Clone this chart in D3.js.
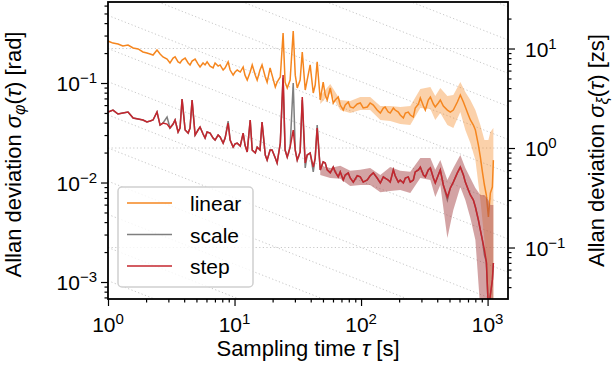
<!DOCTYPE html>
<html>
<head>
<meta charset="utf-8">
<script src="https://cdn.jsdelivr.net/npm/d3@7"></script>
<style>
  body { margin: 0; background: #fff; }
  svg text { font-family: "Liberation Sans", Arial, Helvetica, sans-serif; fill: #000; }
</style>
</head>
<body>
<svg id="chart" width="613" height="373"></svg>
<script>
// sampling times tau [s]
const tau = [
  1.00, 1.095, 1.20, 1.31, 1.44, 1.58, 1.73, 1.89, 2.03, 2.15,
  2.27, 2.44, 2.58, 2.72, 2.93, 3.09, 3.27, 3.39, 3.58, 3.71,
  3.85, 4.07, 4.30, 4.45, 4.62, 4.88, 5.15, 5.34, 5.64, 5.85,
  6.07, 6.41, 6.77, 7.02, 7.42, 7.69, 8.13, 8.43, 8.90, 9.23,
  9.75, 10.1, 10.5, 11.1, 11.7, 12.1, 12.6, 13.3, 13.8, 14.6,
  15.1, 15.9, 16.5, 17.5, 18.1, 19.1, 19.8, 21.0, 21.7, 23.0,
  24.2, 25.1, 26.1, 27.5, 29.1, 30.2, 31.3, 33.0, 34.3, 36.2,
  37.5, 39.6, 41.9, 43.4, 45.0, 47.6, 50.2, 52.1, 54.0, 57.1,
  60.3, 62.5, 66.0, 68.5, 72.3, 75.0, 79.2, 82.1, 86.8, 93.3,
  98.6, 104, 112, 118, 125, 134, 142, 150, 155, 164,
  170, 180, 186, 197, 204, 216, 224, 236, 245, 259,
  268, 284, 294, 311, 322, 340, 353, 373, 386, 408,
  423, 447, 481, 508, 536, 577, 609, 644, 667, 705,
  731, 772, 801, 846, 877, 910, 944, 978, 1015, 1052,
  1091, 1111
];

// Allan deviation sigma_phi [rad]
const linearDev = [
  .264, .252, .247, .236, .241, .225, .220, .205, .200, .196,
  .191, .215, .196, .183, .174, .159, .178, .183, .163, .159,
  .170, .178, .159, .152, .166, .174, .155, .145, .159, .152,
  .163, .148, .142, .159, .148, .152, .135, .142, .163, .135,
  .120, .129, .135, .129, .145, .120, .107, .129, .152, .120,
  .107, .135, .152, .115, .102, .142, .120, .0912, .102, .115,
  .318, .102, .0891, .107, .333, .120, .0891, .107, .205, .0851,
  .107, .152, .0793, .0955, .163, .0675, .102, .0757, .0675, .0891,
  .0630, .0675, .0723, .0601, .0535, .0601, .0644, .0574, .0561, .0615,
  .0630, .0561, .0574, .0630, .0601, .0535, .0499, .0561, .0574, .0511,
  .0499, .0561, .0535, .0511, .0477, .0445, .0499, .0511, .0477, .0455,
  .0561, .0615, .0707, .0587, .0535, .0675, .0723, .0615, .0574, .0630,
  .0675, .0587, .0535, .0511, .0535, .0644, .0757, .0644, .0574, .0477,
  .0425, .0378, .0337, .0238, .0180, .0128, .00944, .00749, .00450, .00784,
  .00901, .0168
];

const scaleDev = [
  .0511, .0535, .0488, .0499, .0511, .0445, .0435, .0425, .0406, .0415,
  .0425, .0511, .0378, .0396, .0455, .0353, .0387, .0425, .0322, .0353,
  .0691, .0337, .0314, .0353, .0675, .0300, .0337, .0361, .0307, .0280,
  .0322, .0314, .0280, .0267, .0300, .0287, .0249, .0280, .0415, .0267,
  .0227, .0244, .0249, .0233, .0314, .0238, .0203, .0425, .0212, .0198,
  .0227, .0212, .0406, .0189, .0168, .0212, .0212, .0176, .0157, .0249,
  .112, .0212, .0180, .0227, .100, .0212, .0168, .0203, .0675, .0140,
  .0189, .0198, .0128, .0176, .0378, .0134, .0161, .0157, .0134, .0125,
  .0143, .0128, .0114, .0128, .0106, .0119, .0125, .0111, .0101, .0117,
  .0114, .0101, .0106, .0117, .0125, .0111, .00989, .0114, .0111, .0106,
  .0101, .0134, .0117, .0101, .0106, .00989, .0111, .0114, .0101, .0106,
  .0128, .0134, .0143, .0119, .0114, .0134, .0140, .0111, .00989, .0119,
  .0134, .00944, .00667, .0088, .0101, .0125, .0143, .0119, .0101, .00841,
  .00749, .00667, .00567, .00420, .00333, .00264, .00187, .00159, .00052, .00074,
  .00105, .00155
];

const stepDev = [
  .0511, .0535, .0488, .0499, .0511, .0445, .0435, .0425, .0406, .0415,
  .0425, .0511, .0378, .0396, .0387, .0353, .0387, .0425, .0322, .0353,
  .0691, .0337, .0314, .0353, .0675, .0300, .0337, .0361, .0307, .0280,
  .0322, .0314, .0280, .0267, .0300, .0287, .0249, .0280, .0396, .0267,
  .0227, .0244, .0249, .0233, .0314, .0238, .0203, .0425, .0212, .0198,
  .0227, .0212, .0406, .0189, .0168, .0212, .0212, .0176, .0157, .0249,
  .120, .0212, .0180, .0227, .0337, .0212, .0168, .0203, .0723, .0157,
  .0189, .0198, .0143, .0176, .0353, .0134, .0161, .0157, .0134, .0125,
  .0143, .0128, .0114, .0128, .0106, .0119, .0125, .0111, .0101, .0117,
  .0114, .0101, .0106, .0117, .0125, .0111, .00989, .0114, .0111, .0106,
  .0101, .0134, .0117, .0101, .0106, .00989, .0111, .0114, .0101, .0106,
  .0128, .0134, .0143, .0119, .0114, .0134, .0140, .0111, .00989, .0119,
  .0134, .00944, .00715, .0088, .0101, .0125, .0143, .0119, .0101, .00841,
  .00749, .00667, .00567, .00420, .00333, .00264, .00210, .00159, .00052, .00074,
  .00105, .00155
];

// confidence bands
const bandTau = [47.6, 57.1, 68.5, 82.1, 98.6, 118, 142, 170, 204, 245,
                 294, 353, 386, 423, 481, 536, 609, 667, 731, 801,
                 877, 944, 1015, 1052, 1111];
const linearHi = [.0740, .0977, .0675, .0659, .0723, .0723, .0587, .0587, .0574, .0587,
                  .0871, .0912, .0740, .0891, .0740, .0757, .1023, .0812, .0675, .0535,
                  .0378, .0267, .0267, .0322, .0353];
const linearLo = [.0615, .0793, .0535, .0499, .0535, .0535, .0425, .0415, .0387, .0378,
                  .0561, .0548, .0425, .0499, .0378, .0353, .0511, .0337, .0249, .0168,
                  .00667, .00264, .00052, .00052, .00052];
const stepHi = [.0147, .0140, .0147, .0131, .0134, .0140, .0119, .0143, .0131, .0128,
                .0176, .0176, .0134, .0168, .0106, .0140, .0189, .0140, .0111, .0088,
                .00749, .00749, .00667, .00594, .00594];
const stepLo = [.0119, .0111, .0109, .0092, .00944, .00944, .0080, .0082, .00841, .00784,
                .0111, .0106, .00715, .00944, .00277, .00529, .00901, .00667, .0044, .00264,
                .00052, .00052, .00052, .00052, .00052];

// dotted tau^-1/2 guide lines, coefficient in zs at tau = 1 s
const guideCoeff = [0.01, 0.0215, 0.0464, 0.1, 0.215, 0.464, 1, 2.15, 4.64, 10, 21.5, 46.4, 100, 215, 464, 1000];

const seriesNames = ["linear", "scale", "step"];
const seriesColors = ["#f5861f", "#7f7f7f", "#c4262e"];
const xMajor = [1, 10, 100, 1000];
const yMajor = [1e-3, 1e-2, 1e-1];
const y2Major = [0.1, 1, 10];
const radToZs = 45;   // sigma_xi [zs] per sigma_phi [rad]

const svg = d3.select("#chart");
const pLeft = 108, pRight = 508, pTop = 2, pBottom = 299;

const x = d3.scaleLog().domain([1, 1450]).range([pLeft, pRight]);
const y = d3.scaleLog().domain([6.75e-4, 0.652]).range([pBottom, pTop]);
const y2 = d3.scaleLog().domain([6.75e-4 * radToZs, 0.652 * radToZs]).range([pBottom, pTop]);

svg.append("defs").append("clipPath").attr("id", "plotClip")
  .append("rect").attr("x", pLeft).attr("y", pTop)
  .attr("width", pRight - pLeft).attr("height", pBottom - pTop);

const plot = svg.append("g").attr("clip-path", "url(#plotClip)");

// grid lines
plot.selectAll(".hgrid").data(y2Major).enter().append("line")
  .attr("x1", pLeft).attr("x2", pRight)
  .attr("y1", d => y2(d)).attr("y2", d => y2(d))
  .attr("stroke", "#c8c8c8").attr("stroke-width", 1)
  .attr("stroke-dasharray", "1.2,2.4");

plot.selectAll(".guide").data(guideCoeff).enter().append("line")
  .attr("x1", x(1)).attr("x2", x(1450))
  .attr("y1", d => y2(d))
  .attr("y2", d => y2(d / Math.sqrt(1450)))
  .attr("stroke", "#c8c8c8").attr("stroke-width", 1)
  .attr("stroke-dasharray", "1.2,2.4");

const bandArea = d3.area()
  .x(d => x(d.t)).y0(d => y(d.lo)).y1(d => y(d.hi));
const devLine = d3.line().x(d => x(d.t)).y(d => y(d.v));

const linearBand = bandTau.map((t, i) => ({ t: t, lo: linearLo[i], hi: linearHi[i] }));
const stepBand = bandTau.map((t, i) => ({ t: t, lo: stepLo[i], hi: stepHi[i] }));

plot.append("path").datum(linearBand).attr("d", bandArea)
  .attr("fill", seriesColors[0]).attr("fill-opacity", 0.38);
plot.append("path").datum(tau.map((t, i) => ({ t: t, v: linearDev[i] })))
  .attr("d", devLine).attr("fill", "none")
  .attr("stroke", seriesColors[0]).attr("stroke-width", 1.5);

plot.append("path").datum(tau.map((t, i) => ({ t: t, v: scaleDev[i] })))
  .attr("d", devLine).attr("fill", "none")
  .attr("stroke", seriesColors[1]).attr("stroke-width", 1.5);

plot.append("path").datum(stepBand).attr("d", bandArea)
  .attr("fill", "#a8474a").attr("fill-opacity", 0.5);
plot.append("path").datum(tau.map((t, i) => ({ t: t, v: stepDev[i] })))
  .attr("d", devLine).attr("fill", "none")
  .attr("stroke", seriesColors[2]).attr("stroke-width", 1.5);

// axes
function isMajor(t) {
  const l = Math.log10(t);
  return Math.abs(l - Math.round(l)) < 1e-6;
}
function drawAxis(axisFn, scale, transform) {
  const minor = scale.ticks().filter(t => !isMajor(t));
  const major = scale.ticks().filter(isMajor);
  const g1 = svg.append("g").attr("transform", transform)
    .call(axisFn(scale).tickValues(minor).tickSize(3.5).tickSizeOuter(0).tickFormat(""));
  const g2 = svg.append("g").attr("transform", transform)
    .call(axisFn(scale).tickValues(major).tickSize(7).tickSizeOuter(0).tickFormat(""));
  [g1, g2].forEach(g => {
    g.select(".domain").remove();
    g.selectAll(".tick line").attr("stroke", "#000").attr("stroke-width", 1.2);
  });
}
drawAxis(d3.axisBottom, x, `translate(0,${pBottom})`);
drawAxis(d3.axisLeft, y, `translate(${pLeft},0)`);
drawAxis(d3.axisRight, y2, `translate(${pRight},0)`);

svg.append("rect").attr("x", pLeft).attr("y", pTop)
  .attr("width", pRight - pLeft).attr("height", pBottom - pTop)
  .attr("fill", "none").attr("stroke", "#000").attr("stroke-width", 1.8);

function powLabel(text, exp) {
  text.append("tspan").text("10");
  text.append("tspan").attr("dy", -8).attr("font-size", 15)
    .text(exp < 0 ? "\u2212" + (-exp) : String(exp));
}

xMajor.forEach(t => {
  const tx = svg.append("text").attr("x", x(t)).attr("y", 332)
    .attr("text-anchor", "middle").attr("font-size", 21);
  powLabel(tx, Math.round(Math.log10(t)));
});
yMajor.forEach(t => {
  const tx = svg.append("text").attr("x", 97).attr("y", y(t) + 8)
    .attr("text-anchor", "end").attr("font-size", 21);
  powLabel(tx, Math.round(Math.log10(t)));
});
y2Major.forEach(t => {
  const tx = svg.append("text").attr("x", 525).attr("y", y2(t) + 8)
    .attr("text-anchor", "start").attr("font-size", 21);
  powLabel(tx, Math.round(Math.log10(t)));
});

// axis titles
const xt = svg.append("text").attr("x", (pLeft + pRight) / 2).attr("y", 356)
  .attr("text-anchor", "middle").attr("font-size", 22);
xt.append("tspan").text("Sampling time ");
xt.append("tspan").attr("font-style", "italic").text("\u03c4");
xt.append("tspan").text(" [s]");

function devTitle(tx, sub, unit) {
  tx.append("tspan").text("Allan deviation ");
  tx.append("tspan").attr("font-style", "italic").text("\u03c3");
  tx.append("tspan").attr("font-style", "italic").attr("font-size", 16).attr("dy", 4).text(sub);
  tx.append("tspan").attr("dy", -4).text("(");
  tx.append("tspan").attr("font-style", "italic").text("\u03c4");
  tx.append("tspan").text(") [" + unit + "]");
}
devTitle(svg.append("text").attr("transform", `translate(21,${(pTop + pBottom) / 2 + 4}) rotate(-90)`)
  .attr("text-anchor", "middle").attr("font-size", 22), "\u03c6", "rad");
devTitle(svg.append("text").attr("transform", `translate(604,${(pTop + pBottom) / 2}) rotate(-90)`)
  .attr("text-anchor", "middle").attr("font-size", 22), "\u03be", "zs");

// legend
const legend = svg.append("g");
legend.append("rect").attr("x", 118).attr("y", 187).attr("width", 135).attr("height", 100)
  .attr("rx", 4).attr("fill", "#fff").attr("fill-opacity", 0.8)
  .attr("stroke", "#d0d0d0").attr("stroke-width", 1.5);
seriesNames.forEach((name, i) => {
  const ly = 203 + i * 31.5;
  legend.append("line").attr("x1", 127).attr("x2", 172).attr("y1", ly).attr("y2", ly)
    .attr("stroke", seriesColors[i]).attr("stroke-width", 1.5);
  legend.append("text").attr("x", 190).attr("y", ly + 8).attr("font-size", 21).text(name);
});
</script>
</body>
</html>
